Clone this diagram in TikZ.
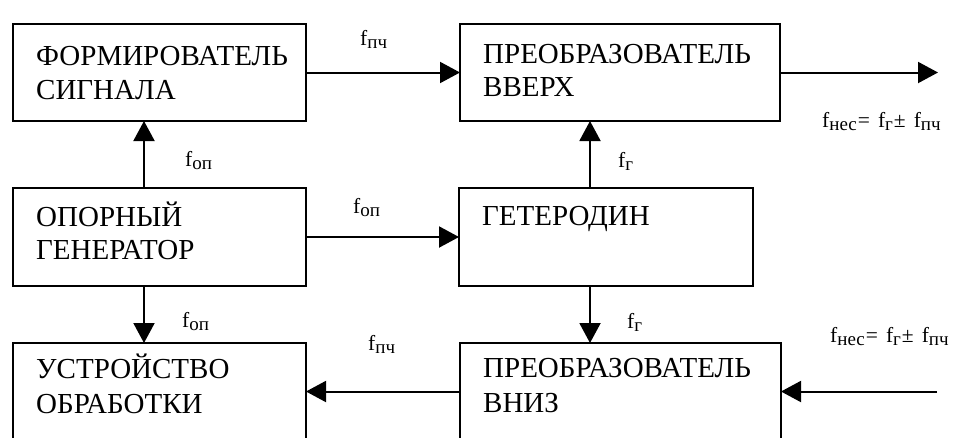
\documentclass[tikz,border=0pt]{standalone}
\usepackage{fontspec}
\setmainfont{Liberation Serif}
\usetikzlibrary{arrows.meta}
\newcommand{\fsub}[1]{f\raisebox{-3pt}{\fontsize{19}{19}\selectfont #1}}
\newcommand{\fnes}{\fsub{нес}\hspace{1pt}=\hspace{8pt}\fsub{г}\hspace{1pt}±\hspace{8pt}\fsub{пч}}
\begin{document}
\begin{tikzpicture}[x=1pt,y=-1pt,
  blk/.style={draw,line width=2pt,inner sep=0pt,outer sep=0pt},
  txt/.style={anchor=base west,inner sep=0pt,font=\fontsize{29}{35}\selectfont},
  lbl/.style={anchor=base west,inner sep=0pt,font=\fontsize{21.5}{24}\selectfont},
  arr/.style={line width=2pt,-{Triangle[length=20pt,width=21pt]}}]
\useasboundingbox (0,0) rectangle (960,437);
\begin{scope}
\clip (0,0) rectangle (960,437);
\node[blk,minimum width=293pt,minimum height=97pt] (A) at (159.5,72.5) {};
\node[blk,minimum width=320pt,minimum height=97pt] (B) at (620,72.5) {};
\node[blk,minimum width=293pt,minimum height=98pt] (C) at (159.5,237) {};
\node[blk,minimum width=294pt,minimum height=98pt] (D) at (606,237) {};
\node[blk,minimum width=293pt,minimum height=97pt] (E) at (159.5,391.5) {};
\node[blk,minimum width=321pt,minimum height=97pt] (F) at (620.5,391.5) {};
\end{scope}
\node[txt] (tA1) at (36,65) {ФОРМИРОВАТЕЛЬ};
\node[txt] (tA2) at (36,99) {СИГНАЛА};
\node[txt] (tB1) at (483,63) {ПРЕОБРАЗОВАТЕЛЬ};
\node[txt] (tB2) at (483,96) {ВВЕРХ};
\node[txt] (tC1) at (36,226) {ОПОРНЫЙ};
\node[txt] (tC2) at (36,259) {ГЕНЕРАТОР};
\node[txt] (tD1) at (482,225) {ГЕТЕРОДИН};
\node[txt] (tE1) at (36,378) {УСТРОЙСТВО};
\node[txt] (tE2) at (36,413) {ОБРАБОТКИ};
\node[txt] (tF1) at (483,377) {ПРЕОБРАЗОВАТЕЛЬ};
\node[txt] (tF2) at (483,412) {ВНИЗ};
\coordinate (out) at (938,72.5);
\coordinate (in) at (937,391.5);
\draw[arr] (A) -- (B);
\draw[arr] (B.east) -- (out);
\draw[arr] ([xshift=-15.5pt]C.north) -- ([xshift=-15.5pt]A.south);
\draw[arr] (C) -- (D);
\draw[arr] ([xshift=-16pt]D.north) -- ([xshift=-16pt]D.north |- B.south);
\draw[arr] ([xshift=-15.5pt]C.south) -- ([xshift=-15.5pt]E.north);
\draw[arr] ([xshift=-16pt]D.south) -- ([xshift=-16pt]D.south |- F.north);
\draw[arr] (F) -- (E);
\draw[arr] (in) -- (F.east);
\node[lbl] (l1) at (360,45) {\fsub{пч}};
\node[lbl] (l2) at (185,166) {\fsub{оп}};
\node[lbl] (l3) at (353,213) {\fsub{оп}};
\node[lbl] (l4) at (618,167) {\fsub{г}};
\node[lbl] (l5) at (822,127) {\fnes};
\node[lbl] (l6) at (182,327) {\fsub{оп}};
\node[lbl] (l7) at (627,328) {\fsub{г}};
\node[lbl] (l8) at (368,350) {\fsub{пч}};
\node[lbl] (l9) at (830,342) {\fnes};
\end{tikzpicture}
\end{document}
